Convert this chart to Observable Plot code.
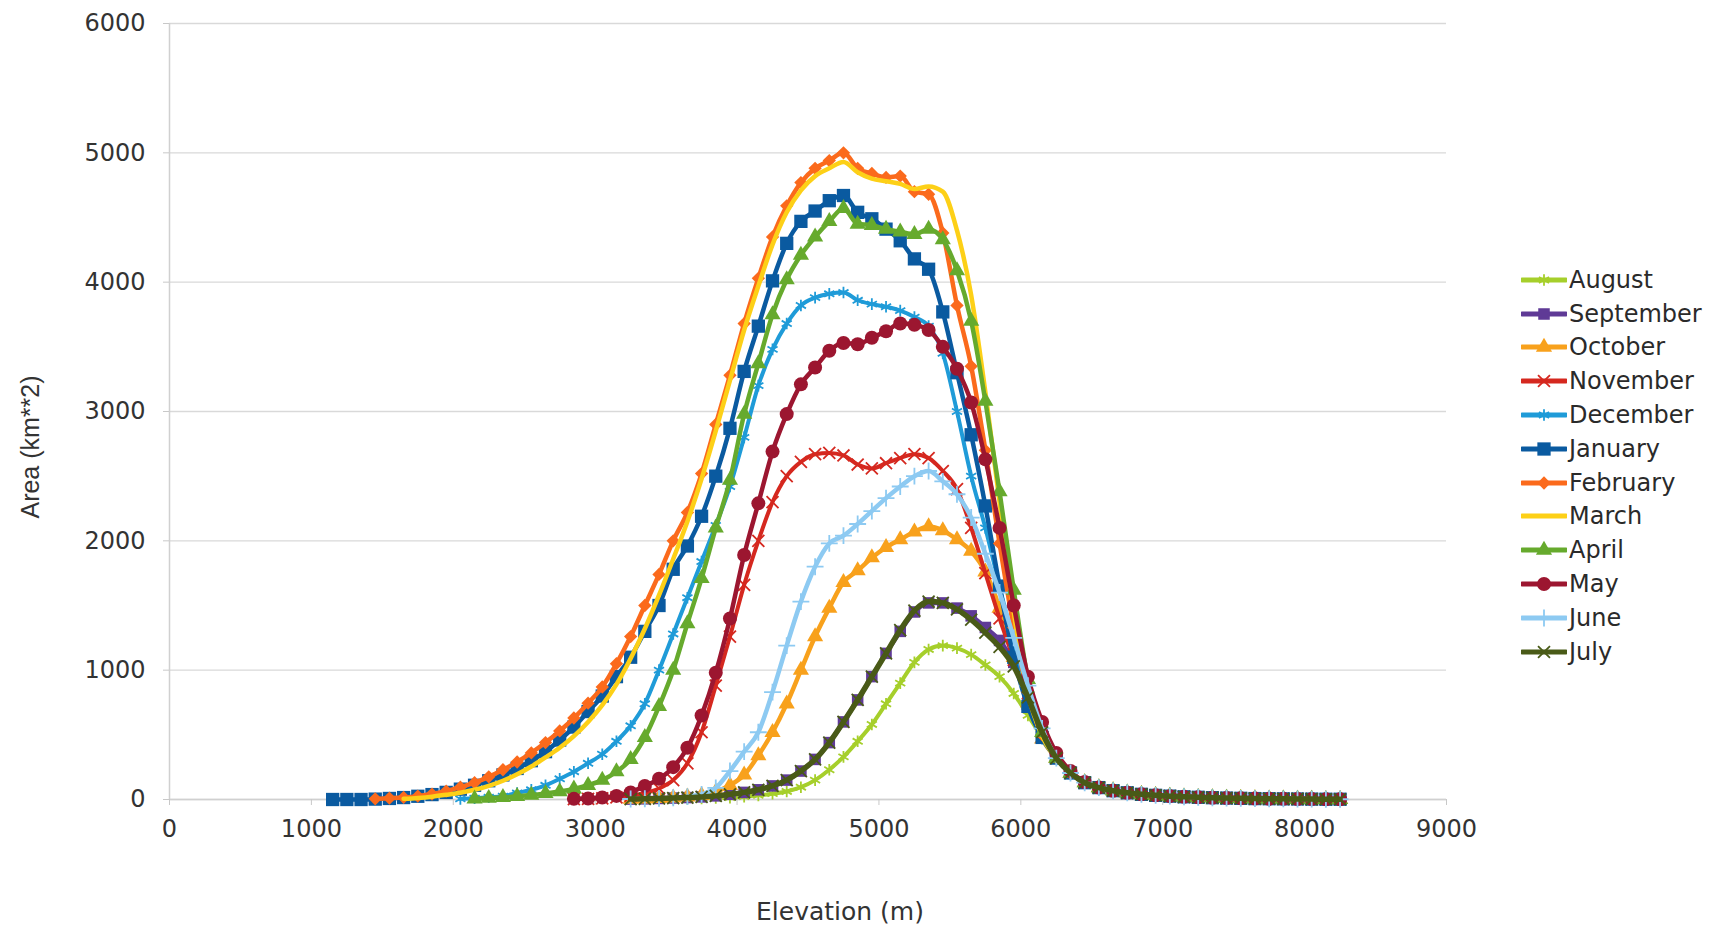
<!DOCTYPE html>
<html><head><meta charset="utf-8">
<script src="https://cdn.jsdelivr.net/npm/d3@7"></script>
<script src="https://cdn.jsdelivr.net/npm/@observablehq/plot@0.6"></script>
<style>
html,body{margin:0;padding:0;background:#fff;}
#wrap{position:relative;width:1710px;height:930px;overflow:hidden;background:#fff;}
#ytitle{position:absolute;left:30px;top:447px;transform:translate(-50%,-50%) rotate(-90deg);font:25px "Liberation Sans",Arial,sans-serif;color:#333;white-space:nowrap;}
#xtitle{position:absolute;left:840px;top:911px;transform:translate(-50%,-50%);font:25px "DejaVu Sans",sans-serif;color:#333;white-space:nowrap;}
#legend{position:absolute;left:1521px;top:263px;font:24px "DejaVu Sans",sans-serif;color:#2a2a2a;}
.row{height:33.8px;display:flex;align-items:center;white-space:nowrap;}
.row svg{display:block;margin-right:2px;}
#chart{position:absolute;left:0;top:0;}
</style></head>
<body><div id="wrap"><div id="chart"></div><div id="ytitle">Area (km**2)</div><div id="xtitle">Elevation (m)</div><div id="legend"></div></div>
<script>
const N = null;
const elevation = [1150,1250,1350,1450,1550,1650,1750,1850,1950,2050,
2150,2250,2350,2450,2550,2650,2750,2850,2950,3050,
3150,3250,3350,3450,3550,3650,3750,3850,3950,4050,
4150,4250,4350,4450,4550,4650,4750,4850,4950,5050,
5150,5250,5350,5450,5550,5650,5750,5850,5950,6050,
6150,6250,6350,6450,6550,6650,6750,6850,6950,7050,
7150,7250,7350,7450,7550,7650,7750,7850,7950,8050,
8150,8250];

const august = [N,N,N,N,N,N,N,N,N,N,
N,N,N,N,N,N,N,N,N,N,
N,2,3,4,5,7,9,12,15,22,
32,45,62,95,150,230,330,450,580,740,
900,1060,1160,1190,1170,1120,1040,950,820,650,
480,320,205,130,92,68,52,40,32,26,
21,17,14,11,9,7,6,5,4,3,
2,2];
const september = [N,N,N,N,N,N,N,N,N,N,
N,N,N,N,N,N,N,N,N,N,
N,3,5,8,11,15,20,28,40,55,
75,105,150,220,310,440,600,770,950,1130,
1300,1450,1520,1520,1480,1420,1330,1230,1060,800,
530,320,205,130,92,68,52,40,32,26,
21,17,14,11,9,7,6,5,4,3,
2,2];
const october = [N,N,N,N,N,N,N,N,N,N,
N,N,N,N,N,N,N,N,N,N,
N,4,6,9,13,20,32,60,110,190,
340,520,740,1000,1260,1480,1680,1770,1870,1950,
2010,2070,2110,2080,2010,1920,1760,1480,1100,750,
470,320,205,130,92,68,52,40,32,26,
21,17,14,11,9,7,6,5,4,3,
2,2];
const november = [N,N,N,N,N,N,N,N,N,N,
N,N,N,N,N,N,N,3,5,9,
16,28,50,85,150,280,520,880,1260,1660,
2000,2300,2500,2610,2670,2680,2660,2590,2560,2600,
2640,2670,2640,2540,2400,2100,1750,1400,1080,740,
480,320,205,130,92,68,52,40,32,26,
21,17,14,11,9,7,6,5,4,3,
2,2];
const december = [N,N,N,N,N,N,N,N,N,5,
10,17,26,50,75,110,160,215,280,350,
450,570,740,1000,1280,1560,1840,2120,2420,2800,
3200,3480,3680,3820,3880,3910,3920,3860,3830,3810,
3780,3730,3660,3450,3000,2500,2100,1650,1200,750,
470,320,205,130,92,68,52,40,32,26,
21,17,14,11,9,7,6,5,4,3,
2,2];
const january = [0,0,0,3,8,15,25,38,55,80,
110,145,190,240,300,370,460,560,680,800,
950,1100,1300,1500,1780,1960,2190,2500,2870,3310,
3660,4010,4300,4470,4550,4630,4670,4540,4490,4410,
4320,4180,4100,3770,3300,2820,2270,1650,1100,720,
480,320,205,130,92,68,52,40,32,26,
21,17,14,11,9,7,6,5,4,3,
2,2];
const february = [N,N,N,5,10,16,26,42,65,95,
130,175,230,290,360,440,530,630,745,870,
1050,1260,1500,1740,2000,2220,2520,2900,3280,3680,
4030,4350,4590,4770,4880,4940,5000,4880,4840,4810,
4820,4700,4680,4380,3820,3350,2700,1980,1330,830,
500,320,205,130,92,68,52,40,32,26,
21,17,14,11,9,7,6,5,4,3,
2,2];
const march = [N,N,N,N,N,5,12,22,36,52,
75,105,145,195,255,325,400,490,600,730,
890,1090,1320,1580,1860,2150,2480,2850,3240,3630,
3970,4290,4540,4710,4820,4880,4930,4850,4800,4780,
4760,4720,4740,4700,4400,3900,3150,2300,1450,820,
490,320,205,130,92,68,52,40,32,26,
21,17,14,11,9,7,6,5,4,3,
2,2];
const april = [N,N,N,N,N,N,N,N,N,N,
5,10,16,24,34,47,62,82,110,150,
215,310,480,720,1000,1360,1710,2100,2470,2980,
3370,3750,4020,4210,4350,4470,4570,4450,4440,4410,
4390,4370,4410,4330,4090,3700,3080,2380,1620,930,
520,320,205,130,92,68,52,40,32,26,
21,17,14,11,9,7,6,5,4,3,
2,2];
const may = [N,N,N,N,N,N,N,N,N,N,
N,N,N,N,N,N,N,5,8,15,
28,55,105,160,250,400,650,980,1400,1890,
2290,2690,2980,3210,3340,3470,3530,3520,3570,3620,
3680,3670,3630,3500,3330,3070,2630,2100,1500,950,
600,360,220,135,92,68,52,40,32,26,
21,17,14,11,9,7,6,5,4,3,
2,2];
const june = [N,N,N,N,N,N,N,N,N,N,
N,N,N,N,N,N,N,N,N,N,
N,4,6,9,14,22,40,90,220,370,
520,830,1190,1530,1800,1980,2040,2130,2230,2330,
2420,2500,2540,2460,2360,2180,1900,1600,1250,880,
550,320,205,130,92,68,52,40,32,26,
21,17,14,11,9,7,6,5,4,3,
2,2];
const july = [N,N,N,N,N,N,N,N,N,N,
N,N,N,N,N,N,N,N,N,N,
N,3,5,8,11,15,20,28,40,55,
75,105,150,220,310,440,600,770,950,1130,
1310,1460,1530,1520,1470,1390,1290,1180,1030,790,
520,320,205,130,92,68,52,40,32,26,
21,17,14,11,9,7,6,5,4,3,
2,2];

const months = ["August","September","October","November","December","January","February","March","April","May","June","July"];
const seriesValues = [august,september,october,november,december,january,february,march,april,may,june,july];
const xTicks = [0,1000,2000,3000,4000,5000,6000,7000,8000,9000];
const yTicks = [0,1000,2000,3000,4000,5000,6000];

// styles
const colors = ["#a6cf2b","#5f3a96","#f8a11c","#d5281f","#1f9bd8","#0a5aa0","#fb6a1c","#fdd017","#66aa2d","#9c1630","#8dcaf2","#495a17"];
const symbols = ["asterisk","square","triangle","times","asterisk","square","diamond2",null,"triangle","circle","plus","times"];
const radii = [5.5,6.5,6,5.5,5.5,7.5,6,0,6,7,5.5,5.5];
const lineWidths = [4,4.5,4.5,4,4,4.5,4.5,4.5,4.5,4.5,4.5,5.5];
const strokeSymbols = new Set(["asterisk","times","plus"]);

const marks = [
  Plot.gridY(yTicks, {stroke:"#d9d9d9", strokeOpacity:1, strokeWidth:1.3}),
  Plot.ruleX([0], {stroke:"#d0d0d0", strokeWidth:1.5}),
  Plot.ruleY([0], {stroke:"#d0d0d0", strokeWidth:1.3}),
  Plot.axisY(yTicks, {tickSize:6, tickPadding:18, fontSize:24, label:null, stroke:"#c8c8c8", fill:"#333", tickFormat:d=>String(d)}),
  Plot.axisX(xTicks, {tickSize:6, tickPadding:14, fontSize:24, label:null, stroke:"#c8c8c8", fill:"#333", tickFormat:d=>String(d)})
];

months.forEach((m,i)=>{
  const rows = [];
  seriesValues[i].forEach((v,k)=>{ if (v !== null) rows.push({x: elevation[k], y: v}); });
  marks.push(Plot.line(rows, {x:"x", y:"y", stroke:colors[i], strokeWidth:lineWidths[i], curve:"monotone-x"}));
  if (symbols[i]) {
    if (strokeSymbols.has(symbols[i])) {
      marks.push(Plot.dot(rows, {x:"x", y:"y", symbol:symbols[i], r:radii[i], stroke:colors[i], strokeWidth:1.8, fill:"none"}));
    } else {
      marks.push(Plot.dot(rows, {x:"x", y:"y", symbol:symbols[i], r:radii[i], fill:colors[i], stroke:"none"}));
    }
  }
});

const chart = Plot.plot({
  width:1710, height:930,
  marginLeft:169, marginRight:264, marginTop:23, marginBottom:131,
  style:{fontFamily:"DejaVu Sans", fontSize:"24px", color:"#333", background:"#fff", overflow:"visible"},
  x:{domain:[0,9000]},
  y:{domain:[0,6000]},
  marks
});
document.getElementById("chart").appendChild(chart);

// legend
const symMap = {asterisk:d3.symbolAsterisk, square:d3.symbolSquare, triangle:d3.symbolTriangle, times:d3.symbolTimes, diamond2:d3.symbolDiamond2, circle:d3.symbolCircle, plus:d3.symbolPlus};
const legend = d3.select("#legend");
months.forEach((m,i)=>{
  const row = legend.append("div").attr("class","row");
  const svg = row.append("svg").attr("width",46).attr("height",24);
  svg.append("line").attr("x1",1).attr("x2",45).attr("y1",12).attr("y2",12)
    .attr("stroke",colors[i]).attr("stroke-width",5).attr("stroke-linecap","round");
  if (symbols[i]) {
    const p = d3.symbol(symMap[symbols[i]], Math.PI*radii[i]*radii[i])();
    const path = svg.append("path").attr("d",p).attr("transform","translate(23,12)");
    if (strokeSymbols.has(symbols[i])) path.attr("fill","none").attr("stroke",colors[i]).attr("stroke-width",1.8);
    else path.attr("fill",colors[i]);
  }
  row.append("span").text(m);
});
</script>
</body></html>
